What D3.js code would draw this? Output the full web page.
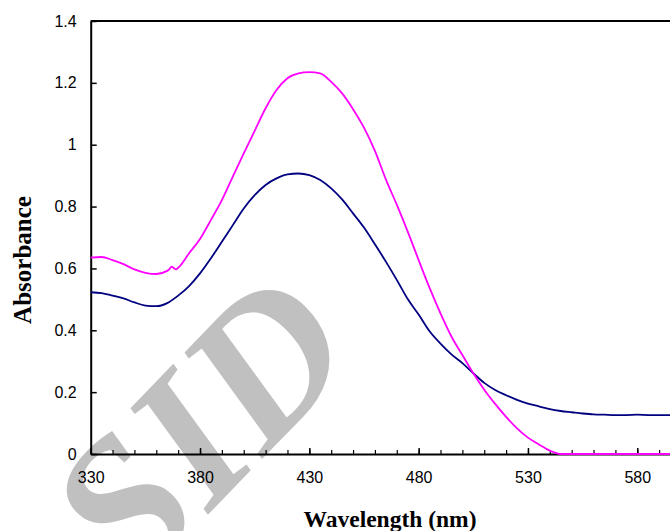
<!DOCTYPE html>
<html>
<head>
<meta charset="utf-8">
<script src="https://cdn.jsdelivr.net/npm/d3@7"></script>
<style>
  body { margin: 0; background: #fff; }
  svg { display: block; }
  .tick text { font-family: "Liberation Sans", Arial, sans-serif; font-size: 16px; fill: #000; }
  .axis-title { font-family: "Liberation Serif", "Times New Roman", serif; font-weight: bold; fill: #000; }
</style>
</head>
<body>
<script>
// Series (wavelength in nm, absorbance)
const waveMagenta = [330, 335, 340, 345, 350, 355, 360, 365, 366, 367, 368, 369, 370, 375, 380, 385, 390, 395,
  400, 405, 410, 415, 420, 425, 430, 435, 440, 445, 450, 455, 460, 465, 470, 475, 480, 485, 490, 495,
  500, 505, 510, 515, 520, 525, 530, 535, 540, 545, 550, 560, 570, 580, 590, 600];
const absMagenta = [0.635, 0.637, 0.627, 0.614, 0.597, 0.586, 0.582, 0.592, 0.598, 0.606, 0.601, 0.597, 0.602, 0.649, 0.695, 0.757, 0.821, 0.897,
  0.972, 1.045, 1.118, 1.177, 1.215, 1.231, 1.235, 1.231, 1.203, 1.166, 1.115, 1.055, 0.980, 0.888, 0.806, 0.719, 0.627, 0.537, 0.455, 0.380,
  0.320, 0.261, 0.208, 0.162, 0.120, 0.083, 0.053, 0.031, 0.011, 0, 0, 0, 0, 0, 0, 0];

const waveNavy = [330, 335, 340, 345, 350, 355, 360, 365, 370, 375, 380, 385, 390, 395,
  400, 405, 410, 415, 420, 425, 430, 435, 440, 445, 450, 455, 460, 465, 470, 475, 480, 485, 490, 495,
  500, 505, 510, 515, 520, 525, 530, 535, 540, 545, 550, 555, 560, 565, 570, 575, 580, 585, 590, 595, 600];
const absNavy = [0.523, 0.520, 0.512, 0.503, 0.490, 0.480, 0.478, 0.488, 0.512, 0.543, 0.584, 0.633, 0.686, 0.740,
  0.794, 0.837, 0.870, 0.891, 0.904, 0.907, 0.902, 0.886, 0.859, 0.823, 0.778, 0.732, 0.678, 0.622, 0.563, 0.501, 0.451, 0.397, 0.357, 0.322,
  0.294, 0.261, 0.230, 0.207, 0.190, 0.175, 0.163, 0.154, 0.145, 0.139, 0.135, 0.131, 0.128, 0.127, 0.126, 0.126, 0.127, 0.126, 0.126, 0.126, 0.126];

const xTicks = [330, 380, 430, 480, 530, 580];
const xMinorTicks = d3.range(330, 601, 10);
const yTicks = [0, 0.2, 0.4, 0.6, 0.8, 1, 1.2, 1.4];

const w = 670;
const h = 531;

const x = d3.scaleLinear().domain([330, 600]).range([90.7, 681]);
const y = d3.scaleLinear().domain([0, 1.4]).range([454, 21]);

const svg = d3.select('body')
  .append('svg')
  .attr('width', w)
  .attr('height', h);

// Watermark, behind everything
svg.append('text')
  .attr('transform', 'translate(200, 428) rotate(-46)')
  .attr('x', -165)
  .attr('y', 66)
  .attr('font-family', '"Liberation Serif", "Times New Roman", serif')
  .attr('font-weight', 'bold')
  .attr('font-style', 'italic')
  .attr('font-size', 198)
  .attr('fill', '#c0c0c0')
  .text('SID');

// Minor x ticks
svg.append('g')
  .attr('transform', `translate(0, ${y(0)})`)
  .call(d3.axisBottom(x).tickValues(xMinorTicks).tickSizeInner(-4).tickSizeOuter(0).tickFormat(''))
  .call(g => g.select('.domain').remove())
  .call(g => g.selectAll('line').attr('stroke', '#000').attr('stroke-width', 1.2));

// X axis
svg.append('g')
  .attr('transform', `translate(0, ${y(0)})`)
  .call(d3.axisBottom(x).tickValues(xTicks).tickSizeInner(-6).tickSizeOuter(0).tickPadding(18))
  .call(g => g.select('.domain').attr('stroke', '#000').attr('stroke-width', 2))
  .call(g => g.selectAll('line').attr('stroke', '#000').attr('stroke-width', 1.5));

// Y axis
svg.append('g')
  .attr('transform', `translate(${x(330)}, 0)`)
  .call(d3.axisLeft(y).tickValues(yTicks).tickSizeInner(-6).tickSizeOuter(0).tickPadding(14).tickFormat(d => d))
  .call(g => g.select('.domain').attr('stroke', '#000').attr('stroke-width', 2))
  .call(g => g.selectAll('line').attr('stroke', '#000').attr('stroke-width', 1.5));

// Top frame line
svg.append('line')
  .attr('x1', x(330)).attr('x2', x(600))
  .attr('y1', y(1.4)).attr('y2', y(1.4))
  .attr('stroke', '#000')
  .attr('stroke-width', 2);

// Curves
const line = d3.line()
  .x(d => x(d[0]))
  .y(d => y(d[1]))
  .curve(d3.curveMonotoneX);

svg.append('path')
  .datum(waveNavy.map((v, i) => [v, absNavy[i]]))
  .attr('fill', 'none')
  .attr('stroke', '#000080')
  .attr('stroke-width', 1.8)
  .attr('d', line);

svg.append('path')
  .datum(waveMagenta.map((v, i) => [v, absMagenta[i]]))
  .attr('fill', 'none')
  .attr('stroke', '#ff00ff')
  .attr('stroke-width', 1.8)
  .attr('d', line);

// Axis titles
svg.append('text')
  .attr('class', 'axis-title')
  .attr('x', 390)
  .attr('y', 527)
  .attr('text-anchor', 'middle')
  .attr('font-size', 23.5)
  .text('Wavelength (nm)');

svg.append('text')
  .attr('class', 'axis-title')
  .attr('transform', 'translate(31, 260) rotate(-90)')
  .attr('text-anchor', 'middle')
  .attr('font-size', 25)
  .text('Absorbance');
</script>
</body>
</html>
